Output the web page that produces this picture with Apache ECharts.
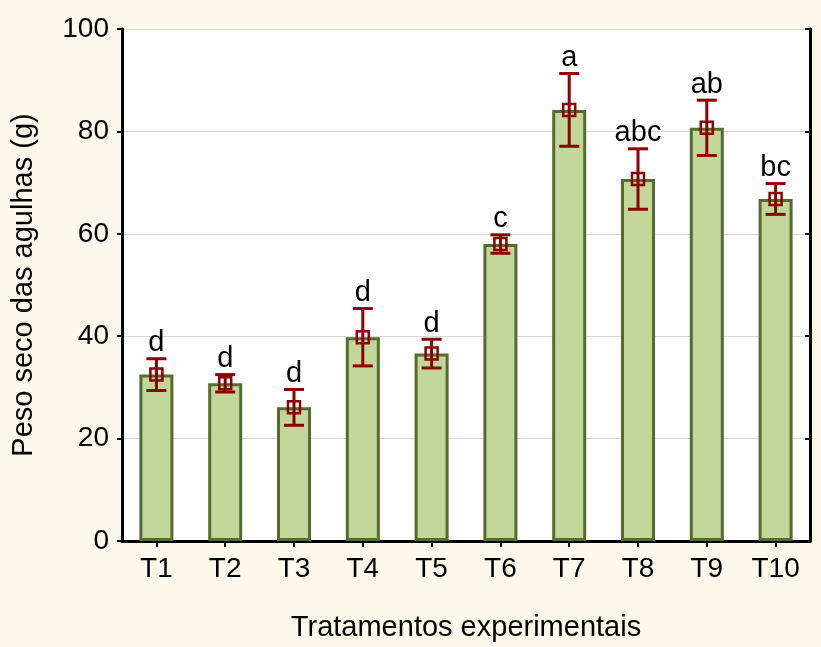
<!DOCTYPE html>
<html>
<head>
<meta charset="utf-8">
<script src="https://cdn.jsdelivr.net/npm/echarts@6/dist/echarts.min.js"></script>
<style>
  html, body { margin: 0; padding: 0; background: #fdf8ec; }
  #chart { width: 821px; height: 647px; }
</style>
</head>
<body>
<div id="chart"></div>
<script>
// Treatments and their mean dry needle weight (g), with error half-widths
const categories = ['T1', 'T2', 'T3', 'T4', 'T5', 'T6', 'T7', 'T8', 'T9', 'T10'];
const means = [32.5, 30.8, 26.1, 39.8, 36.6, 58.0, 84.2, 70.7, 80.7, 66.8];
const errors = [3.1, 1.7, 3.5, 5.6, 2.8, 1.8, 7.1, 5.9, 5.4, 3.0];
// Significance groups (Tukey letters)
const letters = ['d', 'd', 'd', 'd', 'd', 'c', 'a', 'abc', 'ab', 'bc'];
const yMin = 0, yMax = 100, yStep = 20;

const FONT = 'Liberation Sans, Arial, sans-serif';
const ERR_COLOR = '#8b0000';

const errData = means.map((m, i) => [i, m, m - errors[i], m + errors[i], letters[i]]);

const chart = echarts.init(document.getElementById('chart'));
chart.setOption({
  backgroundColor: '#fdf8ec',
  animation: false,
  grid: { left: 122, right: 11, top: 29, bottom: 104, show: true, backgroundColor: '#ffffff', borderWidth: 0 },
  xAxis: [
    {
      type: 'category',
      data: categories,
      position: 'bottom',
      name: 'Tratamentos experimentais',
      nameLocation: 'middle',
      nameGap: 72,
      nameTextStyle: { fontFamily: FONT, fontSize: 29, color: '#000' },
      axisLine: { lineStyle: { color: '#000', width: 3 } },
      axisTick: { show: false },
      axisLabel: { fontFamily: FONT, fontSize: 28, color: '#000', margin: 14 }
    },
    {
      type: 'category',
      data: categories,
      position: 'top',
      axisLine: { lineStyle: { color: '#000', width: 3 } },
      axisTick: { show: true, inside: true, alignWithLabel: true, length: 6, lineStyle: { width: 2, color: '#000' } },
      axisLabel: { show: false }
    }
  ],
  yAxis: [
    {
      type: 'value',
      min: yMin, max: yMax, interval: yStep,
      position: 'left',
      name: 'Peso seco das agulhas (g)',
      nameLocation: 'middle',
      nameGap: 84,
      nameTextStyle: { fontFamily: FONT, fontSize: 29, color: '#000' },
      axisLine: { show: true, lineStyle: { color: '#000', width: 3 } },
      axisTick: { show: true, length: 5, lineStyle: { width: 2, color: '#000' } },
      axisLabel: { fontFamily: FONT, fontSize: 28, color: '#000', margin: 13 },
      splitLine: { show: true, lineStyle: { color: '#d9d9d9', width: 1 } }
    },
    {
      type: 'value',
      min: yMin, max: yMax, interval: yStep,
      position: 'right',
      axisLine: { show: true, lineStyle: { color: '#000', width: 3 } },
      axisTick: { show: true, inside: true, length: 5, lineStyle: { width: 2, color: '#000' } },
      axisLabel: { show: false },
      splitLine: { show: false }
    }
  ],
  series: [
    {
      type: 'bar',
      data: means,
      barWidth: 34,
      itemStyle: { color: '#c4d79b', borderColor: '#556b2f', borderWidth: 3 },
      z: 2
    },
    {
      type: 'custom',
      data: errData,
      z: 5,
      renderItem: function (params, api) {
        const x = api.value(0);
        const mid = api.coord([x, api.value(1)]);
        const lo = api.coord([x, api.value(2)]);
        const hi = api.coord([x, api.value(3)]);
        const cap = 10, box = 6;
        const line = { stroke: ERR_COLOR, lineWidth: 3 };
        return {
          type: 'group',
          children: [
            { type: 'line', shape: { x1: mid[0], y1: hi[1], x2: mid[0], y2: lo[1] }, style: line },
            { type: 'line', shape: { x1: mid[0] - cap, y1: hi[1], x2: mid[0] + cap, y2: hi[1] }, style: line },
            { type: 'line', shape: { x1: mid[0] - cap, y1: lo[1], x2: mid[0] + cap, y2: lo[1] }, style: line },
            { type: 'rect', shape: { x: mid[0] - box, y: mid[1] - box, width: box * 2, height: box * 2 },
              style: { fill: 'rgba(0,0,0,0)', stroke: ERR_COLOR, lineWidth: 2.5 } },
            { type: 'text', x: mid[0], y: hi[1] - 1,
              style: { text: api.value(4), fontFamily: FONT, fontSize: 29, fill: '#000',
                       align: 'center', verticalAlign: 'bottom' } }
          ]
        };
      }
    }
  ]
});
</script>
</body>
</html>
